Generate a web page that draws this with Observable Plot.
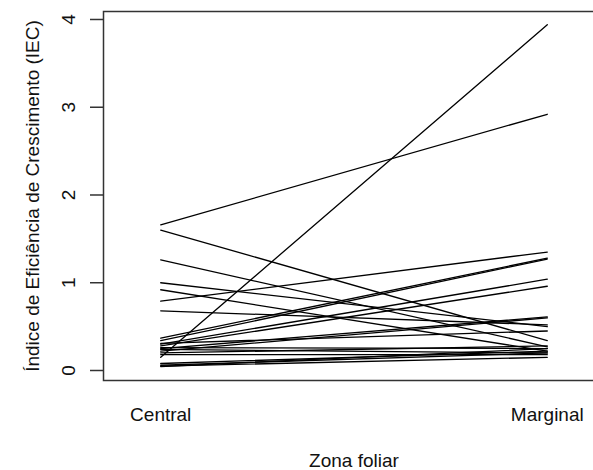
<!DOCTYPE html>
<html><head><meta charset="utf-8">
<script src="https://cdn.jsdelivr.net/npm/d3@7"></script>
<script src="https://cdn.jsdelivr.net/npm/@observablehq/plot@0.6"></script>
<style>html,body{margin:0;padding:0;overflow:hidden;background:#fff}</style>
</head><body><div id="chart"></div>
<script>
const zones = ["Central", "Marginal"];
const zonePos = [1, 2];
const central  = [0.15, 1.66, 1.60, 1.26, 1.00, 0.92, 0.79, 0.68, 0.37, 0.34, 0.30, 0.28, 0.25, 0.22, 0.31, 0.26, 0.24, 0.18, 0.08, 0.06, 0.05, 0.045, 0.20];
const marginal = [3.94, 2.92, 0.34, 0.27, 0.50, 0.22, 1.35, 0.52, 1.28, 1.27, 1.04, 0.96, 0.61, 0.60, 0.45, 0.25, 0.20, 0.18, 0.22, 0.20, 0.15, 0.25, 0.28];
const yTicks = [0, 1, 2, 3, 4];
const xTitle = "Zona foliar";
const yTitle = "Índice de Eficiência de Crescimento (IEC)";

const rows = central.flatMap((c, i) => [
  {id: i, zone: zonePos[0], v: c},
  {id: i, zone: zonePos[1], v: marginal[i]}
]);

const font = "'Liberation Sans', Arial, Helvetica, sans-serif";
const chart = Plot.plot({
  width: 593, height: 470,
  marginLeft: 103, marginRight: -11, marginTop: 11, marginBottom: 90,
  style: {fontFamily: font, fontSize: "18px", background: "#fff", color: "#000", overflow: "hidden"},
  x: {domain: [0.852, 2.148], axis: null},
  y: {domain: [-0.114, 4.091], axis: null},
  marks: [
    Plot.frame({stroke: "#333", strokeWidth: 1.5}),
    Plot.axisY(yTicks, {tickSize: 13, tickFormat: () => "", label: null, stroke: "#333", strokeWidth: 1.5}),
    Plot.text(yTicks, {y: d => d, text: d => String(d), frameAnchor: "left", dx: -35, rotate: -90, textAnchor: "middle", lineAnchor: "middle", fill: "#111", fontSize: 19}),
    Plot.text(zones, {x: (d, i) => zonePos[i], text: d => d, frameAnchor: "bottom", dy: 34, textAnchor: "middle", lineAnchor: "middle", fill: "#111", fontSize: 19}),
    Plot.text([xTitle], {text: d => d, frameAnchor: "bottom", dy: 80, textAnchor: "middle", lineAnchor: "middle", fill: "#111", fontSize: 19}),
    Plot.text([yTitle], {text: d => d, frameAnchor: "left", dx: -71, rotate: -90, textAnchor: "middle", lineAnchor: "middle", fill: "#111", fontSize: 19}),
    Plot.line(rows, {x: "zone", y: "v", z: "id", stroke: "#000", strokeWidth: 1.3})
  ]
});
chart.style.display = "block";
document.getElementById("chart").appendChild(chart);
</script>
</body></html>
